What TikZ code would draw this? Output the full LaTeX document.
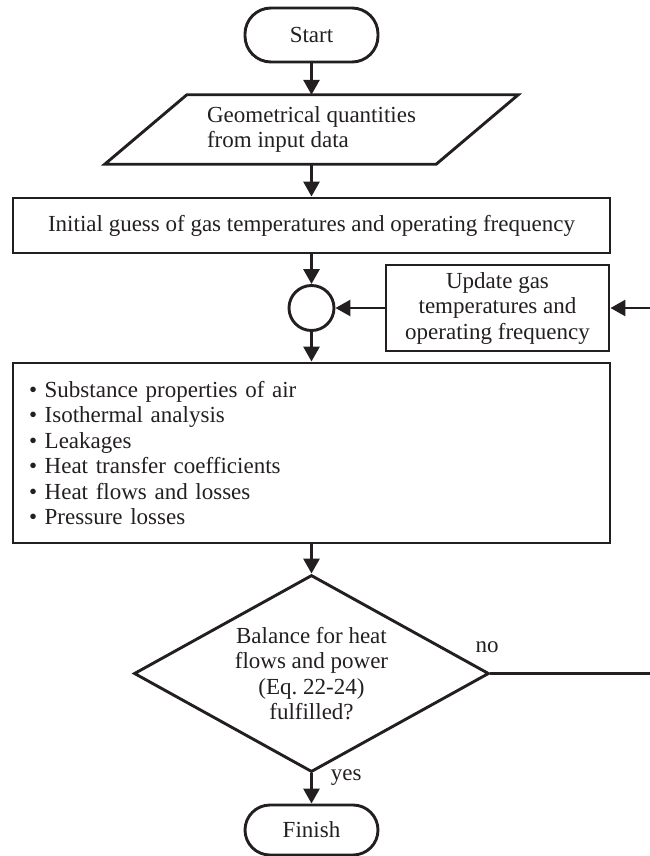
\documentclass[tikz,border=0pt]{standalone}
\usepackage{fontspec}
\setmainfont{Liberation Serif}
\usetikzlibrary{arrows.meta,shapes.geometric,calc}
\definecolor{ink}{RGB}{35,31,32}
\begin{document}
\begin{tikzpicture}[x=1pt,y=-1pt,
  every node/.style={font=\fontsize{23}{25.5}\selectfont, text=ink},
  line/.style={draw=ink, line width=2.9pt},
  arr/.style={line, -{Triangle[length=15pt,width=16pt]}},
  term/.style={line, rectangle, rounded corners=26pt, minimum width=133pt, minimum height=54pt, inner sep=0pt},
  box/.style={line, rectangle, inner sep=0pt}]
\useasboundingbox (0,0) rectangle (650,856);
\node[term] (start) at (311.5,35) {Start};
\node[inner sep=0pt, minimum width=331pt, minimum height=69pt, align=left] (geo) at (311.5,129.5) {Geometrical quantities\\from input data};
\draw[line, line join=miter] ([xshift=41pt]geo.north west) -- ([xshift=41pt]geo.north east) -- ([xshift=-41pt]geo.south east) -- ([xshift=-41pt]geo.south west) -- cycle;
\node[box, minimum width=597pt, minimum height=55pt] (init) at (311.5,225.5) {Initial guess of gas temperatures and operating frequency};
\node[line, circle, minimum size=45pt, inner sep=0pt] (join) at (311.5,308) {};
\node[box, minimum width=223pt, minimum height=86pt, align=center] (upd) at (497.5,308) {Update gas\\temperatures and\\operating frequency};
\node[box, minimum height=180pt, text width=565pt, inner xsep=16pt, align=left] (calc) at (311.5,453) {• Substance properties of air\\• Isothermal analysis\\• Leakages\\• Heat transfer coefficients\\• Heat flows and losses\\• Pressure losses};
\node[line, diamond, minimum width=355pt, minimum height=197pt, inner sep=0pt, aspect=1.8, align=center] (dec) at (311.5,673.5) {Balance for heat\\flows and power\\(Eq.~22-24)\\fulfilled?};
\node[term, minimum height=50pt, rounded corners=25pt] (finish) at (311.5,830) {Finish};
\node[inner sep=0pt] (no) at (487,647) {no};
\coordinate (r1) at (654,673.5);
\coordinate (r2) at (654,308);
\draw[arr] (start) -- (geo);
\draw[arr] (geo) -- (init);
\draw[arr] (init) -- (join);
\draw[arr] (join) -- (calc);
\draw[arr] (upd) -- (join);
\draw[arr] (calc) -- (dec);
\draw[arr] (dec) -- (finish) node[pos=0.15, anchor=west, inner sep=0pt, xshift=18pt] (yes) {yes};
\draw[arr] (dec.east) -- (r1) -- (r2) -- (upd.east);
\end{tikzpicture}
\end{document}
